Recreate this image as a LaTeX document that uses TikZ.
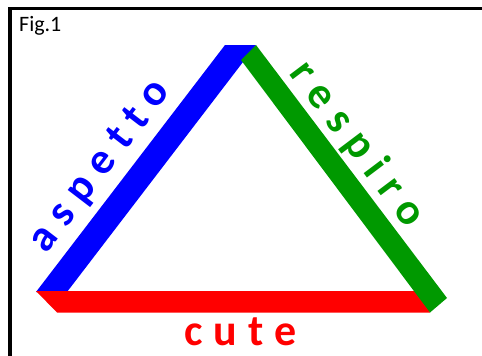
\documentclass[tikz,border=0pt]{standalone}
\usepackage{fontspec}
\setmainfont{Carlito}
\definecolor{bandblue}{RGB}{0,0,255}
\definecolor{bandred}{RGB}{255,0,0}
\definecolor{bandgreen}{RGB}{0,153,0}
\newcommand\lsp{\hspace{11pt}}
\tikzset{
  lbl/.style={font=\fontsize{44}{44}\selectfont\bfseries, anchor=base, inner sep=0pt},
  figlbl/.style={font=\fontsize{22}{22}\selectfont, anchor=base west, inner sep=0pt}
}
\begin{document}
\begin{tikzpicture}[x=1pt,y=-1pt]
\useasboundingbox (0,0) rectangle (482,356);
% bands
\fill[bandblue] (36,292) -- (225,45) -- (256,45) -- (67,292) -- cycle;
\fill[bandred] (36,291) -- (420,291) -- (430,312.5) -- (57,312.5) -- cycle;
\fill[bandgreen] (241,60) -- (256,45) -- (447,298) -- (430,312.5) -- cycle;
% frame
\draw[line width=3.5pt] (10,362) -- (10,8.5) -- (492,8.5);
% labels
\node[figlbl] (fig) at (19,31) {Fig.1};
\node[lbl, text=bandred] (cute) at (240.5,345.5) {c\lsp u\lsp t\lsp e};
\node[lbl, text=bandblue, rotate=52.6] (asp) at (109,173) {a\lsp s\lsp p\lsp e\lsp t\lsp t\lsp o};
\node[lbl, text=bandgreen, rotate=-53] (resp) at (347.6,151.3) {r\lsp e\lsp s\lsp p\lsp i\lsp r\lsp o};
\end{tikzpicture}
\end{document}
